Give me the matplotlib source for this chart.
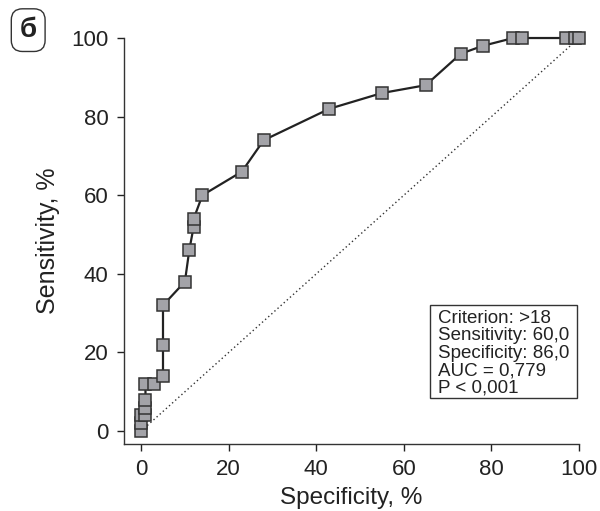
import matplotlib
matplotlib.use("Agg")
import matplotlib.pyplot as plt
from matplotlib.patches import Rectangle

plt.rcParams['font.family'] = ['Liberation Sans', 'DejaVu Sans']

one_minus_spec = [0, 0, 0, 1, 1, 1, 1, 3, 5, 5, 5, 10, 11, 12, 12, 14, 23, 28, 43, 55, 65, 73, 78, 85, 87, 97, 99, 100]
sensitivity =    [0, 2, 4, 4, 6, 8, 12, 12, 14, 22, 32, 38, 46, 52, 54, 60, 66, 74, 82, 86, 88, 96, 98, 100, 100, 100, 100, 100]
xticks = [0, 20, 40, 60, 80, 100]
yticks = [0, 20, 40, 60, 80, 100]
info_lines = ["Criterion: >18", "Sensitivity: 60,0", "Specificity: 86,0", "AUC = 0,779", "P < 0,001"]

W, H = 600, 511
fig = plt.figure(figsize=(6, 5.11), dpi=100)
ax = fig.add_axes([0.2067, 0.131, 0.965 - 0.2067, 0.9256 - 0.131])

ax.plot([0, 100], [0, 100], linestyle=(0, (1, 2)), color='#333333', lw=1.0)
ax.plot(one_minus_spec, sensitivity, color='#222222', lw=1.6,
        marker='s', markersize=8.5, markerfacecolor='#a3a3a8', markeredgecolor='#333333',
        markeredgewidth=1.1, zorder=3, clip_on=False)

ax.set_xlim(-3.9, 100)
ax.set_ylim(-3.3, 100)
ax.set_xticks(xticks)
ax.set_yticks(yticks)
ax.tick_params(direction='out', length=5, width=1, labelsize=16, colors='#222222', pad=6)
for s in ['top', 'right']:
    ax.spines[s].set_visible(False)
for s in ['left', 'bottom']:
    ax.spines[s].set_color('#333333')
    ax.spines[s].set_linewidth(1)

ax.set_xlabel("Specificity, %", fontsize=17.5, color='#222222', labelpad=5)
ax.set_ylabel("Sensitivity, %", fontsize=18, color='#222222', labelpad=8)

fig.patches.append(Rectangle((430 / W, (H - 398) / H), 147 / W, 93 / H,
                             transform=fig.transFigure, fc='white', ec='#333333', lw=1, zorder=5))
fig.text(438 / W, (H - 310) / H, "\n".join(info_lines), fontsize=13.5, color='#222222',
         ha='left', va='top', linespacing=1.03, zorder=6)

fig.text(0.047, 0.941, "б", fontsize=20, fontweight='bold', color='#222222', ha='center', va='center',
         bbox=dict(boxstyle='round,pad=0.3,rounding_size=0.4', fc='white', ec='#333333', lw=1))

fig.savefig("out.png", dpi=100)
